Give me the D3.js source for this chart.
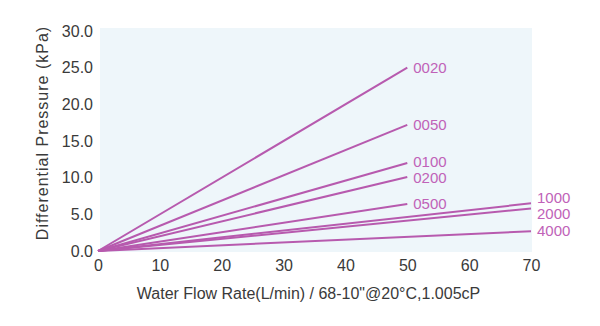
<!DOCTYPE html>
<html>
<head>
<meta charset="utf-8">
<style>
  body { margin: 0; background: #fff; }
  svg { font-family: 'Liberation Sans', Arial, sans-serif; }
  .tick text { font-size: 16px; fill: #3a3a3a; }
  .domain, .tick line { display: none; }
  .lbl { font-size: 15px; fill: #c062b8; }
  .title { font-size: 16px; fill: #3a3a3a; }
</style>
</head>
<body>
<svg width="600" height="326"></svg>
<script src="https://d3js.org/d3.v7.min.js"></script>
<script>
const models = ["0020", "0050", "0100", "0200", "0500", "1000", "2000", "4000"];
const endFlow = [50, 50, 50, 50, 50, 70, 70, 70];
const endPressure = [25.0, 17.2, 12.0, 10.1, 6.4, 6.5, 5.8, 2.7];
const xTicks = [0, 10, 20, 30, 40, 50, 60, 70];
const yTicks = [0, 5, 10, 15, 20, 25, 30];

const svg = d3.select("svg");
const margin = { left: 98, right: 69, top: 31, bottom: 75 };
const width = 600, height = 326;

const x = d3.scaleLinear().domain([0, 70]).range([margin.left, width - margin.right]);
const y = d3.scaleLinear().domain([0, 30]).range([height - margin.bottom, margin.top]);

svg.append("rect")
  .attr("x", x(0) + 2)
  .attr("y", y(30) - 3)
  .attr("width", x(70) - x(0) - 1)
  .attr("height", y(0) - y(30) + 4)
  .style("fill", "#eef6fa");

svg.append("g")
  .attr("transform", `translate(0,${y(0) + 5})`)
  .call(d3.axisBottom(x).tickValues(xTicks).tickSize(0).tickPadding(4));

svg.append("g")
  .attr("transform", `translate(${x(0) - 5},0)`)
  .call(d3.axisLeft(y).tickValues(yTicks).tickSize(0).tickPadding(0).tickFormat(d3.format(".1f")));

const series = models.map((m, i) => ({
  name: m,
  points: [[0, 0], [endFlow[i], endPressure[i]]]
}));

const line = d3.line().x(d => x(d[0])).y(d => y(d[1]));

svg.append("g").selectAll("path")
  .data(series)
  .join("path")
  .attr("d", d => line(d.points))
  .style("fill", "none")
  .style("stroke", "#b75aae")
  .style("stroke-width", "2px");

// label positions: start at the line end, then push apart overlapping labels
const minGap = 16;
const labels = series.map(d => {
  const e = d.points[1];
  return { name: d.name, x: x(e[0]) + 6, y: y(e[1]), gx: e[0] };
});
for (let it = 0; it < 20; it++) {
  d3.groups(labels, d => d.gx).forEach(([, g]) => {
    g.sort((a, b) => a.y - b.y);
    for (let i = 1; i < g.length; i++) {
      const gap = g[i].y - g[i - 1].y;
      if (gap < minGap) {
        const push = (minGap - gap) / 2;
        g[i].y += push;
        g[i - 1].y -= push;
      }
    }
  });
}

svg.append("g").selectAll("text")
  .data(labels)
  .join("text")
  .attr("class", "lbl")
  .attr("x", d => d.x)
  .attr("y", d => d.y)
  .attr("dy", "0.35em")
  .text(d => d.name);

svg.append("text")
  .attr("class", "title")
  .attr("x", (x(0) + x(70)) / 2 - 6)
  .attr("y", 299)
  .attr("text-anchor", "middle")
  .text("Water Flow Rate(L/min) / 68-10\"@20°C,1.005cP");

svg.append("text")
  .attr("class", "title")
  .attr("transform", `translate(48,${(y(0) + y(30)) / 2 - 8}) rotate(-90)`)
  .attr("text-anchor", "middle")
  .style("letter-spacing", "1px")
  .text("Differential Pressure (kPa)");
</script>
</body>
</html>
